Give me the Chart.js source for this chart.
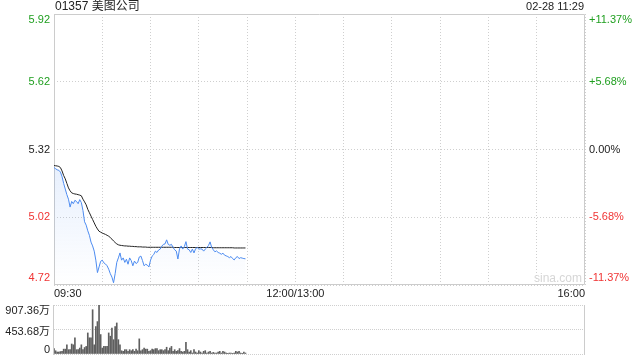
<!DOCTYPE html>
<html>
<head>
<meta charset="utf-8">
<script src="https://cdn.jsdelivr.net/npm/chart.js@4.4.1/dist/chart.umd.min.js"></script>
<style>
  html, body { margin: 0; padding: 0; background: #fff; }
  #wrap { position: relative; width: 640px; height: 360px; }
  #priceChart { position: absolute; left: 0; top: 0; }
  #volChart { position: absolute; left: 0; top: 300px; }
</style>
</head>
<body>
<div id="wrap">
  <canvas id="priceChart" width="640" height="300"></canvas>
  <canvas id="volChart" width="640" height="60"></canvas>
</div>
<script>
// header texts
const stockName = '01357 美图公司';
const stamp = '02-28 11:29';

// minute prices from 09:30 to 11:29
const prices = [
  5.240, 5.235, 5.230, 5.228, 5.220, 5.200, 5.170, 5.145, 5.120, 5.100,
  5.065, 5.090, 5.080, 5.095, 5.090, 5.080, 5.098, 5.085, 5.050, 5.000,
  4.985, 4.960, 4.940, 4.910, 4.893, 4.870, 4.830, 4.775, 4.800, 4.825,
  4.830, 4.818, 4.813, 4.805, 4.790, 4.770, 4.755, 4.730, 4.770, 4.820,
  4.840, 4.862, 4.830, 4.840, 4.820, 4.834, 4.812, 4.840, 4.828, 4.805,
  4.826, 4.815, 4.820, 4.844, 4.848, 4.828, 4.805, 4.812, 4.808, 4.800,
  4.830, 4.848, 4.855, 4.870, 4.864, 4.875, 4.879, 4.892, 4.900, 4.902,
  4.920, 4.900, 4.896, 4.900, 4.886, 4.876, 4.870, 4.835, 4.880, 4.893,
  4.879, 4.890, 4.912, 4.879, 4.876, 4.864, 4.879, 4.862, 4.881, 4.886,
  4.879, 4.880, 4.879, 4.870, 4.879, 4.886, 4.895, 4.911, 4.886, 4.876,
  4.867, 4.871, 4.864, 4.861, 4.856, 4.861, 4.852, 4.849, 4.846, 4.841,
  4.846, 4.837, 4.831, 4.841, 4.846, 4.837, 4.841, 4.839, 4.837, 4.836
];

// average price line
const avgPrices = [
  5.249, 5.248, 5.247, 5.245, 5.240, 5.225, 5.205, 5.190, 5.170, 5.150,
  5.137, 5.128, 5.125, 5.123, 5.122, 5.120, 5.118, 5.115, 5.100, 5.088,
  5.075, 5.055, 5.040, 5.025, 5.010, 4.995, 4.980, 4.968, 4.958, 4.954,
  4.950, 4.947, 4.944, 4.940, 4.936, 4.930, 4.923, 4.915, 4.908, 4.902,
  4.898, 4.896, 4.895, 4.894, 4.893, 4.893, 4.892, 4.892, 4.891, 4.891,
  4.890, 4.890, 4.889, 4.889, 4.889, 4.888, 4.888, 4.888, 4.887, 4.887,
  4.887, 4.887, 4.887, 4.887, 4.887, 4.887, 4.887, 4.887, 4.887, 4.887,
  4.887, 4.887, 4.887, 4.887, 4.887, 4.886, 4.886, 4.886, 4.886, 4.886,
  4.886, 4.886, 4.886, 4.886, 4.886, 4.886, 4.886, 4.886, 4.886, 4.886,
  4.886, 4.886, 4.886, 4.886, 4.886, 4.886, 4.886, 4.886, 4.886, 4.885,
  4.885, 4.885, 4.885, 4.885, 4.885, 4.885, 4.885, 4.885, 4.885, 4.885,
  4.885, 4.885, 4.884, 4.884, 4.884, 4.884, 4.884, 4.884, 4.884, 4.884
];

// volume per minute, in 万
const volumes = [
  100, 60, 37, 37, 45, 50, 90, 90, 170, 80,
  80, 185, 170, 300, 80, 80, 110, 170, 80, 120,
  140, 390, 300, 300, 820, 170, 510, 600, 907.36, 360,
  110, 140, 140, 140, 390, 330, 480, 265, 510, 575,
  265, 170, 60, 50, 80, 80, 50, 80, 60, 80,
  50, 90, 60, 280, 60, 80, 110, 90, 90, 50,
  62, 90, 80, 100, 100, 62, 80, 80, 62, 80,
  125, 62, 110, 140, 50, 80, 50, 62, 100, 50,
  37, 50, 215, 80, 37, 62, 18, 80, 37, 18,
  62, 37, 18, 50, 62, 18, 37, 50, 18, 30,
  18, 18, 37, 50, 18, 50, 37, 18, 6, 18,
  18, 6, 18, 50, 37, 50, 18, 5, 37, 18
];

// axes
const priceTicks = [5.92, 5.62, 5.32, 5.02, 4.72];
const pctLabels = ['+11.37%', '+5.68%', '0.00%', '-5.68%', '-11.37%'];
const prevClose = 5.32;
const timeTicks = [0, 150, 330];
const timeLabels = ['09:30', '12:00/13:00', '16:00'];
const volTicks = [907.36, 453.68, 0];
const volLabels = ['907.36万', '453.68万', '0'];
const totalMinutes = 330;

const FONT = '11px "Liberation Sans", Arial, "Noto Sans CJK SC", sans-serif';
const GREEN = '#1f9f1f';
const RED = '#f03434';
const GRID = '#cfcfcf';

const pts = arr => arr.map((v, i) => ({ x: i, y: v }));

const frame = {
  id: 'frame',
  beforeDatasetsDraw(chart, args, opts) {
    const { ctx, chartArea: a } = chart;
    ctx.save();
    ctx.strokeStyle = '#cccccc';
    ctx.lineWidth = 1;
    ctx.beginPath();
    if (opts.full) {
      ctx.rect(a.left + 0.5, a.top + 0.5, a.width - 1, a.height - 1);
    } else {
      ctx.moveTo(a.left - 0.5, a.top); ctx.lineTo(a.left - 0.5, a.bottom + 1);
      ctx.moveTo(a.right - 0.5, a.top); ctx.lineTo(a.right - 0.5, a.bottom + 1);
    }
    ctx.stroke();
    ctx.restore();
  }
};

const priceText = {
  id: 'priceText',
  afterDraw(chart) {
    const { ctx, chartArea: a, scales: { x, y } } = chart;
    ctx.save();
    ctx.font = FONT;
    ctx.textBaseline = 'middle';
    priceTicks.forEach((v, k) => {
      let py = y.getPixelForValue(v);
      if (k === 0) py += 6;
      if (k === priceTicks.length - 1) py -= 7;
      ctx.fillStyle = v > prevClose ? GREEN : v < prevClose ? RED : '#222';
      ctx.textAlign = 'right';
      ctx.fillText(v.toFixed(2), a.left - 4, py);
      ctx.textAlign = 'left';
      ctx.fillText(pctLabels[k], a.right + 4, py);
    });
    ctx.fillStyle = '#222';
    timeTicks.forEach((t, k) => {
      ctx.textAlign = k === 0 ? 'left' : k === timeTicks.length - 1 ? 'right' : 'center';
      ctx.fillText(timeLabels[k], x.getPixelForValue(t), a.bottom + 9);
    });
    ctx.font = '12px "Liberation Sans", Arial, "Noto Sans CJK SC", sans-serif';
    ctx.textAlign = 'left';
    ctx.fillText(stockName, a.left + 1, 7);
    ctx.font = FONT;
    ctx.textAlign = 'right';
    ctx.fillText(stamp, a.right - 1, 7);
    ctx.fillStyle = '#d6d6d6';
    ctx.font = '12px "Liberation Sans", Arial, sans-serif';
    ctx.fillText('sina.com', a.right - 3, a.bottom - 6);
    ctx.restore();
  }
};

const volText = {
  id: 'volText',
  afterDraw(chart) {
    const { ctx, chartArea: a, scales: { y } } = chart;
    ctx.save();
    ctx.font = FONT;
    ctx.textBaseline = 'middle';
    ctx.textAlign = 'right';
    ctx.fillStyle = '#222';
    volTicks.forEach((v, k) => {
      let py = y.getPixelForValue(v);
      if (k === 0) py += 6;
      else if (k === volTicks.length - 1) py -= 4;
      else py += 2;
      ctx.fillText(volLabels[k], a.left - 4, py);
    });
    ctx.restore();
  }
};

new Chart(document.getElementById('priceChart'), {
  type: 'line',
  data: {
    datasets: [{
      data: pts(prices),
      borderColor: '#4c8bf0',
      borderWidth: 1,
      pointRadius: 0,
      fill: 'start',
      backgroundColor: (c) => {
        const a = c.chart.chartArea;
        if (!a) return 'rgba(76,139,240,0.1)';
        const g = c.chart.ctx.createLinearGradient(0, a.top, 0, a.bottom);
        g.addColorStop(0, 'rgba(76,139,240,0.30)');
        g.addColorStop(1, 'rgba(76,139,240,0.0)');
        return g;
      }
    }, {
      data: pts(avgPrices),
      borderColor: '#222',
      borderWidth: 1,
      pointRadius: 0,
      fill: false
    }]
  },
  options: {
    responsive: false,
    animation: false,
    layout: { padding: { left: 54, right: 55, top: 14, bottom: 15 } },
    plugins: { legend: { display: false }, tooltip: { enabled: false }, frame: { full: true } },
    scales: {
      x: {
        type: 'linear', min: 0, max: totalMinutes,
        ticks: { display: false, stepSize: 30 },
        grid: { color: GRID, drawTicks: false },
        border: { display: false, dash: [1, 2] }
      },
      y: {
        min: priceTicks[priceTicks.length - 1], max: priceTicks[0],
        afterBuildTicks: s => { s.ticks = priceTicks.map(v => ({ value: v })); },
        ticks: { display: false },
        grid: { color: GRID, drawTicks: false },
        border: { display: false, dash: [1, 2] }
      }
    }
  },
  plugins: [frame, priceText]
});

new Chart(document.getElementById('volChart'), {
  type: 'bar',
  data: {
    datasets: [{
      data: pts(volumes),
      backgroundColor: '#5f5f5f',
      barThickness: 1
    }]
  },
  options: {
    responsive: false,
    animation: false,
    layout: { padding: { left: 54, right: 55, top: 5, bottom: 6 } },
    plugins: { legend: { display: false }, tooltip: { enabled: false }, frame: { full: false } },
    scales: {
      x: {
        type: 'linear', min: 0, max: totalMinutes, offset: false,
        ticks: { display: false },
        grid: { display: false, drawTicks: false, offset: false },
        border: { display: false }
      },
      y: {
        min: 0, max: volTicks[0],
        afterBuildTicks: s => { s.ticks = volTicks.map(v => ({ value: v })); },
        ticks: { display: false },
        grid: { color: GRID, drawTicks: false },
        border: { display: false, dash: [1, 1] }
      }
    }
  },
  plugins: [frame, volText]
});
</script>
</body>
</html>
